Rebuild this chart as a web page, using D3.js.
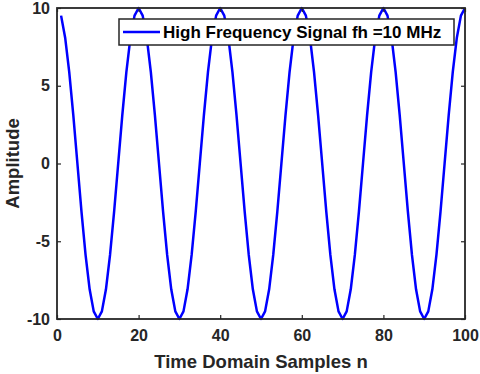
<!DOCTYPE html>
<html lang="en">
<head>
<meta charset="UTF-8">
<style>
    body { margin: 0; background: #fff; }
    svg { display: block; font-family: "Liberation Sans", Arial, sans-serif; }
    .tick text { font-size: 16px; font-weight: bold; fill: #262626; }
    .axis-title { font-size: 18.5px; font-weight: bold; fill: #262626; }
</style>
<title>High Frequency Signal</title>
</head>
<body>
<script src="https://d3js.org/d3.v7.min.js"></script>
<script>
    // samples n = 1..100, amplitude
    var samples = d3.range(1, 101);
    var amplitude = [
        9.51, 8.09, 5.88, 3.09, 0, -3.09, -5.88, -8.09, -9.51, -10,
        -9.51, -8.09, -5.88, -3.09, 0, 3.09, 5.88, 8.09, 9.51, 10,
        9.51, 8.09, 5.88, 3.09, 0, -3.09, -5.88, -8.09, -9.51, -10,
        -9.51, -8.09, -5.88, -3.09, 0, 3.09, 5.88, 8.09, 9.51, 10,
        9.51, 8.09, 5.88, 3.09, 0, -3.09, -5.88, -8.09, -9.51, -10,
        -9.51, -8.09, -5.88, -3.09, 0, 3.09, 5.88, 8.09, 9.51, 10,
        9.51, 8.09, 5.88, 3.09, 0, -3.09, -5.88, -8.09, -9.51, -10,
        -9.51, -8.09, -5.88, -3.09, 0, 3.09, 5.88, 8.09, 9.51, 10,
        9.51, 8.09, 5.88, 3.09, 0, -3.09, -5.88, -8.09, -9.51, -10,
        -9.51, -8.09, -5.88, -3.09, 0, 3.09, 5.88, 8.09, 9.51, 10
    ];
    var xTicks = [0, 20, 40, 60, 80, 100];
    var yTicks = [-10, -5, 0, 5, 10];
    var legendLabel = 'High Frequency Signal fh =10 MHz';

    var width = 480, height = 374;
    var margin = {left: 57, top: 8, right: 15, bottom: 55};
    var axisColor = '#262626';

    var svg = d3.select('body').append('svg')
        .attr('width', width).attr('height', height);

    var x = d3.scaleLinear().domain([0, 100]).range([margin.left, width - margin.right]);
    var y = d3.scaleLinear().domain([-10, 10]).range([height - margin.bottom, margin.top]);

    var data = samples.map(function (n, i) { return {n: n, v: amplitude[i]}; });

    // signal
    svg.append('path')
        .datum(data)
        .attr('fill', 'none')
        .attr('stroke', '#0000ff')
        .attr('stroke-width', 2.5)
        .attr('stroke-linejoin', 'round')
        .attr('d', d3.line().x(function (d) { return x(d.n); }).y(function (d) { return y(d.v); }));

    // axes, ticks pointing inward (matlab box style)
    function styleAxis(g) {
        g.select('.domain').remove();
        g.selectAll('.tick line').attr('stroke', axisColor).attr('stroke-width', 1.2);
    }
    var plain = function (d) { return String(d); };

    svg.append('g')
        .attr('transform', 'translate(0,' + y.range()[0] + ')')
        .call(d3.axisBottom(x).tickValues(xTicks).tickFormat(plain).tickSizeInner(-4).tickSizeOuter(0).tickPadding(11))
        .call(styleAxis);
    svg.append('g')
        .attr('transform', 'translate(0,' + y.range()[1] + ')')
        .call(d3.axisTop(x).tickValues(xTicks).tickSizeInner(-4).tickSizeOuter(0).tickFormat(''))
        .call(styleAxis);
    svg.append('g')
        .attr('transform', 'translate(' + x.range()[0] + ',0)')
        .call(d3.axisLeft(y).tickValues(yTicks).tickFormat(plain).tickSizeInner(-4).tickSizeOuter(0).tickPadding(7))
        .call(styleAxis);
    svg.append('g')
        .attr('transform', 'translate(' + x.range()[1] + ',0)')
        .call(d3.axisRight(y).tickValues(yTicks).tickSizeInner(-4).tickSizeOuter(0).tickFormat(''))
        .call(styleAxis);

    svg.selectAll('.tick text').attr('font-family', null).attr('font-size', null);

    // box
    svg.append('rect')
        .attr('x', x.range()[0]).attr('y', y.range()[1])
        .attr('width', x.range()[1] - x.range()[0])
        .attr('height', y.range()[0] - y.range()[1])
        .attr('fill', 'none').attr('stroke', axisColor).attr('stroke-width', 1.8);

    // axis titles
    svg.append('text').attr('class', 'axis-title')
        .attr('x', (x.range()[0] + x.range()[1]) / 2).attr('y', 368)
        .attr('text-anchor', 'middle')
        .text('Time Domain Samples n');
    svg.append('text').attr('class', 'axis-title')
        .attr('transform', 'translate(19,' + (y.range()[0] + y.range()[1]) / 2 + ') rotate(-90)')
        .attr('text-anchor', 'middle')
        .text('Amplitude');

    // legend
    var legend = svg.append('g').attr('transform', 'translate(119,19)');
    legend.append('rect')
        .attr('width', 335).attr('height', 26)
        .attr('fill', '#fff').attr('stroke', axisColor).attr('stroke-width', 1.5);
    legend.append('line')
        .attr('x1', 4).attr('x2', 41).attr('y1', 13).attr('y2', 13)
        .attr('stroke', '#0000ff').attr('stroke-width', 2.5);
    legend.append('text')
        .attr('x', 44).attr('y', 19)
        .style('font-size', '17px').style('font-weight', 'bold').style('fill', '#000')
        .text(legendLabel);
</script>
</body>
</html>
